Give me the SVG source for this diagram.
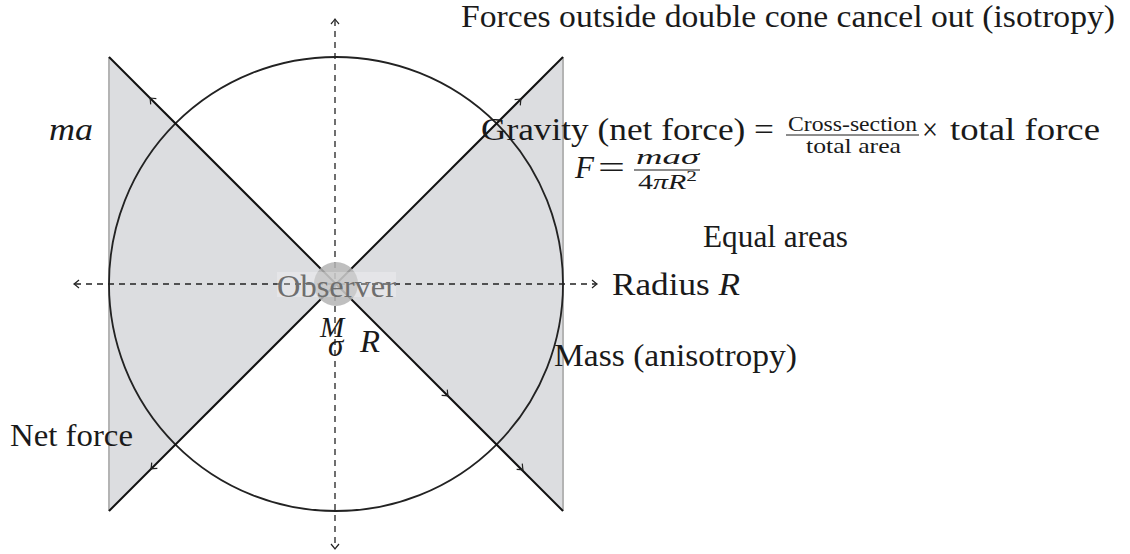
<svg xmlns="http://www.w3.org/2000/svg" width="1130" height="554" viewBox="0 0 1130 554">
<style>
.t{font-family:"Liberation Serif","DejaVu Serif",serif;font-size:31px;fill:#1a1a1a}
.i{font-style:italic}
.s{font-size:21px}
.axis{stroke:#222;stroke-width:1.3;stroke-dasharray:6 5;fill:none}
.diag{stroke:#111;stroke-width:2;fill:none}
.tip{stroke:#222;stroke-width:1.2;fill:none}
</style>
<defs>
<path id="tip" d="M-5,-4 Q-1.5,-1 0,0 Q-1.5,1 -5,4" class="tip"/>
</defs>
<g id="cones">
<path d="M109,57 L336,284 L109,511 Z" fill="#dcdde0"/>
<path d="M563,57 L336,284 L563,511 Z" fill="#dcdde0"/>
<line x1="109" y1="57" x2="109" y2="511" stroke="#b4b4b4" stroke-width="2"/>
<line x1="563" y1="57" x2="563" y2="511" stroke="#b4b4b4" stroke-width="2"/>
</g>
<g id="sphere">
<circle cx="336" cy="284" r="227" fill="none" stroke="#222" stroke-width="1.8"/>
</g>
<g id="connectors">
<line class="axis" x1="75" y1="284" x2="596" y2="284"/>
<line class="axis" x1="335" y1="20" x2="335" y2="548"/>
<use href="#tip" transform="translate(74,284) rotate(180)"/>
<use href="#tip" transform="translate(597,284)"/>
<use href="#tip" transform="translate(335,19) rotate(-90)"/>
<use href="#tip" transform="translate(335,549) rotate(90)"/>
<line class="diag" x1="109" y1="57" x2="563" y2="511"/>
<line class="diag" x1="563" y1="57" x2="109" y2="511"/>
<use href="#tip" transform="translate(150,98) rotate(-135)"/>
<use href="#tip" transform="translate(521,99) rotate(-45)"/>
<use href="#tip" transform="translate(151,469) rotate(135)"/>
<use href="#tip" transform="translate(448,396) rotate(45)"/>
<use href="#tip" transform="translate(523,470) rotate(45)"/>
</g>
<g id="observer">
<circle cx="336" cy="284" r="22" fill="#b4b4b4" fill-opacity="0.85"/>
<rect x="277" y="272" width="119" height="25" fill="#ffffff" fill-opacity="0.25"/>
<text class="t" x="277" y="297" textLength="119" lengthAdjust="spacingAndGlyphs" style="fill:#6e6e6e">Observer</text>
</g>
<g id="labels">
<text class="t" x="461" y="27" textLength="654" lengthAdjust="spacingAndGlyphs">Forces outside double cone cancel out (isotropy)</text>
<text class="t i" x="49" y="140" textLength="44" lengthAdjust="spacingAndGlyphs">ma</text>
<text class="t" x="481" y="140" textLength="293" lengthAdjust="spacingAndGlyphs">Gravity (net force) =</text>
<text class="t s" x="788" y="131" textLength="129" lengthAdjust="spacingAndGlyphs">Cross-section</text>
<line x1="786" y1="135" x2="919" y2="135" stroke="#1a1a1a" stroke-width="1"/>
<text class="t s" x="806" y="153" textLength="95" lengthAdjust="spacingAndGlyphs">total area</text>
<text class="t" x="922" y="140" textLength="16" lengthAdjust="spacingAndGlyphs">×</text>
<text class="t" x="950" y="140" textLength="150" lengthAdjust="spacingAndGlyphs">total force</text>
<text class="t i" x="575" y="178" textLength="19" lengthAdjust="spacingAndGlyphs">F</text>
<text class="t" x="598" y="178" textLength="27" lengthAdjust="spacingAndGlyphs">=</text>
<text class="t i" x="636" y="164" style="font-size:21px" textLength="63" lengthAdjust="spacingAndGlyphs">maσ</text>
<line x1="634" y1="170" x2="700" y2="170" stroke="#1a1a1a" stroke-width="1"/>
<text class="t" x="638" y="189" style="font-size:21px" textLength="59" lengthAdjust="spacingAndGlyphs">4<tspan class="i">πR</tspan><tspan dy="-8" style="font-size:15px">2</tspan></text>
<text class="t" x="703" y="247" textLength="145" lengthAdjust="spacingAndGlyphs">Equal areas</text>
<text class="t" x="612" y="295" textLength="128" lengthAdjust="spacingAndGlyphs">Radius <tspan class="i">R</tspan></text>
<text class="t" x="554" y="366" textLength="243" lengthAdjust="spacingAndGlyphs">Mass (anisotropy)</text>
<text class="t" x="10" y="446" textLength="123" lengthAdjust="spacingAndGlyphs">Net force</text>
<text class="t i"><tspan x="320" y="337" style="font-size:29px">M</tspan><tspan x="328" y="356">σ</tspan></text>
<text class="t i" x="360" y="352" textLength="20" lengthAdjust="spacingAndGlyphs">R</text>
</g>
</svg>
